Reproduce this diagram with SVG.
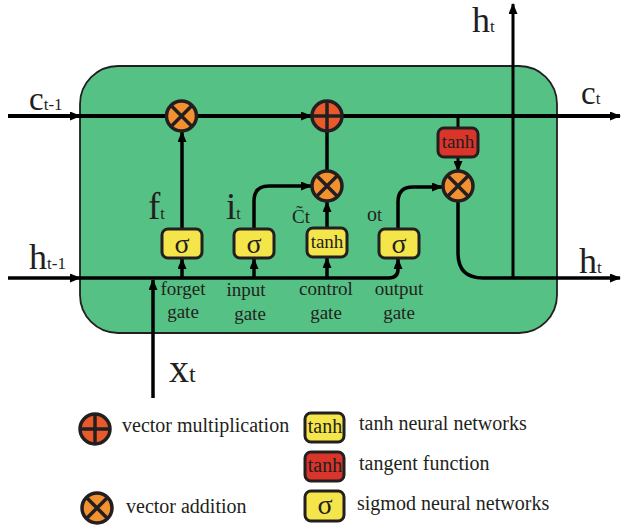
<svg xmlns="http://www.w3.org/2000/svg" width="621" height="526" viewBox="0 0 621 526">
<style>
.t{font-family:"Liberation Serif","Times New Roman",serif;fill:#231F20}
.ln{fill:none;stroke:#000;stroke-width:3.5}
.thin{fill:none;stroke:#000;stroke-width:3}
.box{stroke:#231F20;stroke-width:3}
.yel{fill:#F4E64A}
.red{fill:#D9352A}
.mul{fill:#F39130;stroke:#231F20;stroke-width:3.5}
.add{fill:#E85A2C;stroke:#231F20;stroke-width:3.5}
.sym{stroke:#231F20;stroke-width:3.5}
</style>
<defs>
<marker id="ah" markerUnits="userSpaceOnUse" markerWidth="11" markerHeight="9" refX="10" refY="4.5" orient="auto">
<path d="M0,0 L11,4.5 L0,9 z" fill="#000"/>
</marker>
</defs>
<rect id="cell" x="80" y="66" width="477" height="267" rx="38" ry="38" fill="#55C185" stroke="#231F20" stroke-width="1.8"/>
<g id="connectors">
<path class="ln" style="stroke-width:4" d="M8,116 H80" marker-end="url(#ah)"/>
<path class="ln" style="stroke-width:4" d="M80,116 H166"/>
<path class="ln" style="stroke-width:4" d="M197,116 H311" marker-end="url(#ah)"/>
<path class="ln" style="stroke-width:4" d="M343,116 H620" marker-end="url(#ah)"/>
<path class="ln" d="M182,229 V132" marker-end="url(#ah)"/>
<path class="ln" d="M327,132 V171"/>
<path class="ln" d="M327,228 V202" marker-end="url(#ah)"/>
<path class="ln" d="M254,229 V201 Q254,186 269,186 H311" marker-end="url(#ah)"/>
<path class="ln" d="M398,229 V202 Q398,187 413,187 H442" marker-end="url(#ah)"/>
<path class="thin" d="M458,116 V128"/>
<path class="thin" d="M458,157 V171" marker-end="url(#ah)"/>
<path class="ln" d="M8,278 H80" marker-end="url(#ah)"/>
<path class="ln" d="M80,278 H389 Q398,278 398,269 V259" marker-end="url(#ah)"/>
<path class="ln" d="M182,278 V259" marker-end="url(#ah)"/>
<path class="ln" d="M254,278 V259" marker-end="url(#ah)"/>
<path class="ln" d="M327,278 V258" marker-end="url(#ah)"/>
<path class="ln" d="M153,398 V280" marker-end="url(#ah)"/>
<path class="ln" d="M458,201 V253 Q458,278 483,278 H620" marker-end="url(#ah)"/>
<path class="thin" d="M513,278 V4" marker-end="url(#ah)"/>
</g>
<g id="forget-mul">
<circle class="mul" cx="181.5" cy="116" r="15"/>
<path class="sym" d="M171,105.5 L192,126.5 M192,105.5 L171,126.5"/>
</g>
<g id="cell-add">
<circle class="add" cx="327" cy="116" r="15"/>
<path class="sym" d="M312,116 H342 M327,101 V131"/>
</g>
<g id="input-mul">
<circle class="mul" cx="327" cy="186" r="15"/>
<path class="sym" d="M316.5,175.5 L337.5,196.5 M337.5,175.5 L316.5,196.5"/>
</g>
<g id="output-mul">
<circle class="mul" cx="458" cy="186" r="15"/>
<path class="sym" d="M447.5,175.5 L468.5,196.5 M468.5,175.5 L447.5,196.5"/>
</g>
<g id="tanh-out">
<rect class="box red" x="438" y="128" width="40" height="29" rx="6"/>
<text class="t" x="458" y="148" font-size="19" text-anchor="middle">tanh</text>
</g>
<g id="forget-gate">
<rect class="box yel" x="162" y="229" width="40" height="29" rx="6"/>
<text class="t" x="182" y="253" font-size="28" text-anchor="middle">σ</text>
</g>
<g id="input-gate">
<rect class="box yel" x="234" y="229" width="40" height="29" rx="6"/>
<text class="t" x="254" y="253" font-size="28" text-anchor="middle">σ</text>
</g>
<g id="control-gate">
<rect class="box yel" x="307" y="228" width="40" height="29" rx="6"/>
<text class="t" x="327" y="248" font-size="19" text-anchor="middle">tanh</text>
</g>
<g id="output-gate">
<rect class="box yel" x="379" y="229" width="40" height="29" rx="6"/>
<text class="t" x="399" y="253" font-size="28" text-anchor="middle">σ</text>
</g>
<g id="labels">
<text class="t" x="29" y="110" font-size="33">c<tspan font-size="17">t-1</tspan></text>
<text class="t" x="29" y="269" font-size="36">h<tspan font-size="17">t-1</tspan></text>
<text class="t" x="581" y="104" font-size="33">c<tspan font-size="17">t</tspan></text>
<text class="t" x="472" y="32" font-size="36">h<tspan font-size="17">t</tspan></text>
<text class="t" x="579" y="273" font-size="36">h<tspan font-size="17">t</tspan></text>
<text class="t" x="169" y="382" font-size="40">x<tspan font-size="24">t</tspan></text>
<text class="t" x="148" y="219" font-size="37">f<tspan font-size="16">t</tspan></text>
<text class="t" x="226" y="219" font-size="37">i<tspan font-size="16">t</tspan></text>
<text class="t" x="292" y="223" font-size="19">C&#771;t</text>
<text class="t" x="367" y="221" font-size="20">o<tspan font-size="18">t</tspan></text>
<text class="t" x="183" y="295" font-size="19" text-anchor="middle">forget</text>
<text class="t" x="183" y="318" font-size="19" text-anchor="middle">gate</text>
<text class="t" x="246" y="296" font-size="19" text-anchor="middle">input</text>
<text class="t" x="250" y="320" font-size="19" text-anchor="middle">gate</text>
<text class="t" x="326" y="295" font-size="19" text-anchor="middle">control</text>
<text class="t" x="326" y="319" font-size="19" text-anchor="middle">gate</text>
<text class="t" x="399" y="295" font-size="19" text-anchor="middle">output</text>
<text class="t" x="399" y="319" font-size="19" text-anchor="middle">gate</text>
</g>
<g id="legend">
<circle class="add" cx="95" cy="429" r="15"/>
<path class="sym" d="M80,429 H110 M95,414 V444"/>
<text class="t" x="122" y="432" font-size="20">vector multiplication</text>
<circle class="mul" cx="97" cy="508" r="15"/>
<path class="sym" d="M86.5,497.5 L107.5,518.5 M107.5,497.5 L86.5,518.5"/>
<text class="t" x="126" y="513" font-size="20">vector addition</text>
<rect class="box yel" x="305" y="413" width="39" height="29" rx="6"/>
<text class="t" x="325" y="433" font-size="20" text-anchor="middle">tanh</text>
<text class="t" x="359" y="430" font-size="20">tanh neural networks</text>
<rect class="box red" x="305" y="452" width="39" height="29" rx="6"/>
<text class="t" x="325" y="472" font-size="20" text-anchor="middle">tanh</text>
<text class="t" x="359" y="470" font-size="20">tangent function</text>
<rect class="box yel" x="305" y="491" width="39" height="30" rx="6"/>
<text class="t" x="325" y="514" font-size="28" text-anchor="middle">σ</text>
<text class="t" x="357" y="510" font-size="20">sigmod neural networks</text>
</g>
</svg>
